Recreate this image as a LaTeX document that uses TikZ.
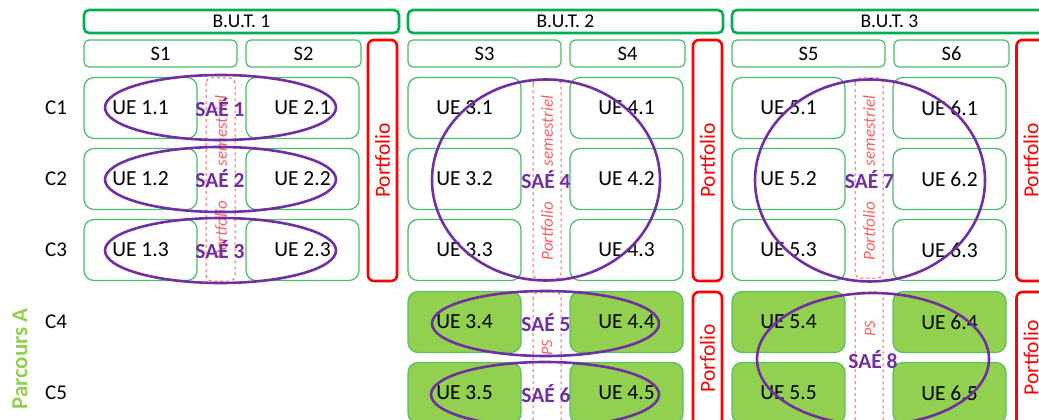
\documentclass[tikz,border=0pt]{standalone}
\usepackage{fontspec}
\setmainfont{Carlito}
\definecolor{butgreen}{HTML}{00B050}
\definecolor{uegreen}{HTML}{4CBB6C}
\definecolor{parcfill}{HTML}{92D050}
\definecolor{saepurple}{HTML}{7030A0}
\definecolor{pfred}{HTML}{FF0000}
\definecolor{dashred}{HTML}{FF5F64}
\tikzset{
  butbox/.style={draw=butgreen, line width=2.6pt, rounded corners=5pt, minimum height=23pt, font=\fontsize{19.5}{21}\selectfont, inner sep=0pt},
  sembox/.style={draw=uegreen, line width=1.2pt, rounded corners=5pt, minimum height=27pt, font=\fontsize{20.5}{22}\selectfont, inner sep=0pt},
  uebox/.style={draw=uegreen, line width=1.2pt, rounded corners=10pt, minimum width=113pt, minimum height=61pt, font=\fontsize{21.5}{23}\selectfont, inner sep=0pt},
  uefill/.style={uebox, fill=parcfill, draw=uegreen!80!parcfill},
  pfbox/.style={draw=pfred, line width=2.6pt, rounded corners=6pt, inner sep=0pt},
  pftext/.style={text=pfred, rotate=90, font=\fontsize{21.5}{23}\selectfont, inner sep=0pt},
  dashcol/.style={draw=dashred, dashed, line width=1pt, rounded corners=5pt},
  dashtext/.style={text=dashred, rotate=90, font=\fontsize{17}{19}\selectfont\itshape, inner sep=0pt},
  saering/.style={draw=saepurple, line width=2.6pt},
  saelabel/.style={text=saepurple, font=\fontsize{21.5}{23}\selectfont\bfseries, inner sep=0pt},
  clabel/.style={font=\fontsize{21}{23}\selectfont, inner sep=0pt},
}
\begin{document}
\begin{tikzpicture}[x=1pt,y=-1pt]
\useasboundingbox (0,0) rectangle (1039,420);
\clip (0,0) rectangle (1039,420);
% B.U.T. headers
\node[butbox, minimum width=315pt] (but1) at (241.5,21.5) {B.U.T. 1};
\node[butbox, minimum width=315pt] (but2) at (565.5,21.5) {B.U.T. 2};
\node[butbox, minimum width=315pt] (but3) at (889.5,21.5) {B.U.T. 3};
% semesters
\node[sembox, minimum width=153pt] (s1) at (160.5,53.5) {S1};
\node[sembox, minimum width=115pt] (s2) at (303.5,53.5) {S2};
\node[sembox, minimum width=153pt] (s3) at (484.5,53.5) {S3};
\node[sembox, minimum width=115pt] (s4) at (627.5,53.5) {S4};
\node[sembox, minimum width=153pt] (s5) at (808.5,53.5) {S5};
\node[sembox, minimum width=115pt] (s6) at (951.5,53.5) {S6};
% portfolio boxes
\node[pfbox, minimum width=29pt, minimum height=241pt] (pf1) at (382.5,160.5) {};
\node[pfbox, minimum width=29pt, minimum height=241pt] (pf2) at (707.5,160.5) {};
\node[pfbox, minimum width=29pt, minimum height=241pt] (pf3) at (1031,160.5) {};
\node[pfbox, minimum width=29pt, minimum height=140pt] (pf4) at (707.5,362) {};
\node[pfbox, minimum width=29pt, minimum height=140pt] (pf5) at (1031,362) {};
\node[pftext] (pft1) at (pf1) {Portfolio};
\node[pftext] (pft2) at (pf2) {Portfolio};
\node[pftext] (pft3) at (pf3) {Portfolio};
\node[pftext] (pft4) at (707.5,358) {Porfolio};
\node[pftext] (pft5) at (1031,358) {Portfolio};
% competence labels
\node[clabel] (c1) at (56,108) {C1};
\node[clabel] (c2) at (56,179) {C2};
\node[clabel] (c3) at (56,250) {C3};
\node[clabel] (c4) at (56,322) {C4};
\node[clabel] (c5) at (56,393) {C5};
\node[text=parcfill, rotate=90, font=\fontsize{23}{25}\selectfont\bfseries, inner sep=0pt] (parc) at (20,359) {Parcours A};
% UE boxes
\foreach \r/\y in {1/108,2/179,3/250}{
  \node[uebox] (ue1\r) at (140.5,\y) {UE 1.\r};
  \node[uebox] (ue2\r) at (302.5,\y) {UE 2.\r};
  \node[uebox] (ue3\r) at (464.5,\y) {UE 3.\r};
  \node[uebox] (ue4\r) at (626.5,\y) {UE 4.\r};
  \node[uebox] (ue5\r) at (788.5,\y) {UE 5.\r};
  \node[uebox] (ue6\r) at (949.5,\y) {UE 6.\r};
}
\foreach \r/\y in {4/322,5/393}{
  \node[uefill] (ue3\r) at (464.5,\y) {UE 3.\r};
  \node[uefill] (ue4\r) at (626.5,\y) {UE 4.\r};
  \node[uefill] (ue5\r) at (788.5,\y) {UE 5.\r};
  \node[uefill] (ue6\r) at (949.5,\y) {UE 6.\r};
}
% dashed semester portfolio columns
\draw[dashcol] (206,78) rectangle (235,281);
\draw[dashcol] (533,79) rectangle (561,279);
\draw[dashcol] (855,78) rectangle (883,278);
\draw[dashcol] (533,292) rectangle (561,440);
\draw[dashcol] (855,292) rectangle (883,440);
\node[dashtext] (d1a) at (221,131) {semestriel};
\node[dashtext] (d1b) at (221,230) {Portfolio};
\node[dashtext] (d2a) at (547,131) {semestriel};
\node[dashtext] (d2b) at (547,231) {Portfolio};
\node[dashtext] (d3a) at (869,131) {semestriel};
\node[dashtext] (d3b) at (869,231) {Portfolio};
\node[dashtext, font=\fontsize{16}{18}\selectfont\itshape] (ps1) at (547,348) {PS};
\node[dashtext, font=\fontsize{16}{18}\selectfont\itshape] (ps2) at (870,329) {PS};
% SAE ellipses
\draw[saering] (220.5,107.5) ellipse [x radius=115.5, y radius=32.5];
\draw[saering] (220.5,179.5) ellipse [x radius=115.5, y radius=32.5];
\draw[saering] (220.5,250.5) ellipse [x radius=115.5, y radius=32.5];
\draw[saering] (546,180) ellipse [x radius=114, y radius=100.5];
\draw[saering] (870,180.5) ellipse [x radius=115, y radius=101];
\draw[saering] (545.5,323.5) ellipse [x radius=113.5, y radius=32.5];
\draw[saering] (545,394.5) ellipse [x radius=114, y radius=32.5];
\draw[saering] (873,359) ellipse [x radius=116, y radius=66];
% SAE labels
\node[saelabel] (sae1) at (220,108) {SAÉ 1};
\node[saelabel] (sae2) at (220,179) {SAÉ 2};
\node[saelabel] (sae3) at (220,250) {SAÉ 3};
\node[saelabel] (sae4) at (546,180) {SAÉ 4};
\node[saelabel] (sae5) at (546,323) {SAÉ 5};
\node[saelabel] (sae6) at (546,394) {SAÉ 6};
\node[saelabel] (sae7) at (869.5,180) {SAÉ 7};
\node[saelabel] (sae8) at (873,360) {SAÉ 8};
\end{tikzpicture}
\end{document}
